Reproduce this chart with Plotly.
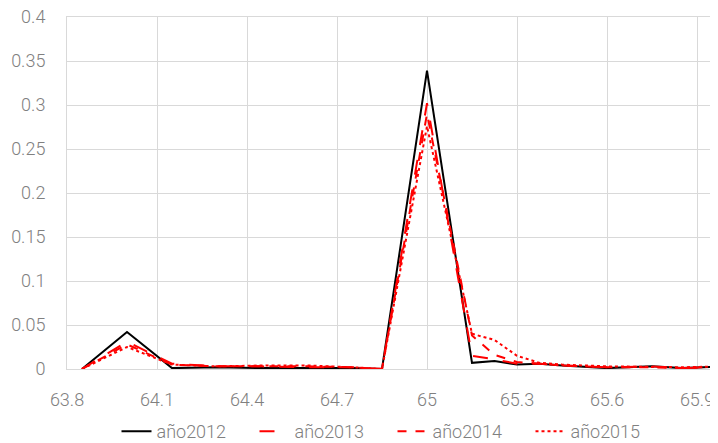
import plotly.graph_objects as go

x = [63.85, 64.0, 64.15, 64.3, 64.45, 64.6, 64.75, 64.85, 65.0, 65.15, 65.225, 65.3, 65.375, 65.45, 65.6, 65.75, 65.85, 66.0]

y2012 = [0.0, 0.042, 0.001, 0.002, 0.001, 0.001, 0.001, 0.0, 0.339, 0.007, 0.009, 0.005, 0.006, 0.004, 0.001, 0.003, 0.001, 0.003]
y2013 = [0.0, 0.031, 0.006, 0.003, 0.003, 0.002, 0.002, 0.0, 0.302, 0.015, 0.011, 0.006, 0.006, 0.004, 0.002, 0.003, 0.001, 0.002]
y2014 = [0.0, 0.028, 0.005, 0.003, 0.003, 0.003, 0.002, 0.0, 0.29, 0.038, 0.016, 0.008, 0.006, 0.004, 0.002, 0.002, 0.001, 0.003]
y2015 = [0.0, 0.025, 0.005, 0.003, 0.004, 0.004, 0.002, 0.0, 0.276, 0.04, 0.033, 0.015, 0.007, 0.005, 0.003, 0.002, 0.002, 0.003]

names = ["año2012", "año2013", "año2014", "año2015"]
series = [y2012, y2013, y2014, y2015]
colors = ["#000000", "#ff0000", "#ff0000", "#ff0000"]
dashes = ["solid", "longdash", "dash", "dot"]

xtick_vals = [63.8, 64.1, 64.4, 64.7, 65.0, 65.3, 65.6, 65.9]
xtick_text = ["63.8", "64.1", "64.4", "64.7", "65", "65.3", "65.6", "65.9"]
ytick_vals = [0, 0.05, 0.1, 0.15, 0.2, 0.25, 0.3, 0.35, 0.4]
ytick_text = ["0", "0.05", "0.1", "0.15", "0.2", "0.25", "0.3", "0.35", "0.4"]

fig = go.Figure()
for n, s, c, d in zip(names, series, colors, dashes):
    fig.add_trace(go.Scatter(x=x, y=s, mode="lines", name=n,
                             line=dict(color=c, width=2, dash=d)))

font = dict(family="Roboto", size=18, color="#808080", weight=300)
fig.update_layout(
    width=710, height=435,
    margin=dict(l=59, r=0, t=9, b=74, autoexpand=False),
    paper_bgcolor="white", plot_bgcolor="white",
    font=font,
    showlegend=True,
    legend=dict(orientation="h", x=0.5, xanchor="center", y=-0.178, yanchor="middle",
                font=font, tracegroupgap=0, entrywidth=93, entrywidthmode="pixels"),
    xaxis=dict(range=[63.8, 65.97], tickvals=xtick_vals, ticktext=xtick_text,
               showgrid=True, gridcolor="#d9d9d9", gridwidth=1, automargin=False,
               zeroline=False, showline=True, mirror=True, linecolor="#d9d9d9", linewidth=1,
               ticks="", ticklabelstandoff=14, tickfont=font),
    yaxis=dict(range=[0, 0.4], tickvals=ytick_vals, ticktext=ytick_text,
               showgrid=True, gridcolor="#d9d9d9", gridwidth=1, automargin=False,
               zeroline=False, showline=True, linecolor="#d9d9d9", linewidth=1,
               ticks="", ticklabelstandoff=17, tickfont=font, ticklabeloverflow="allow"),
)
fig.write_html("out.html")
